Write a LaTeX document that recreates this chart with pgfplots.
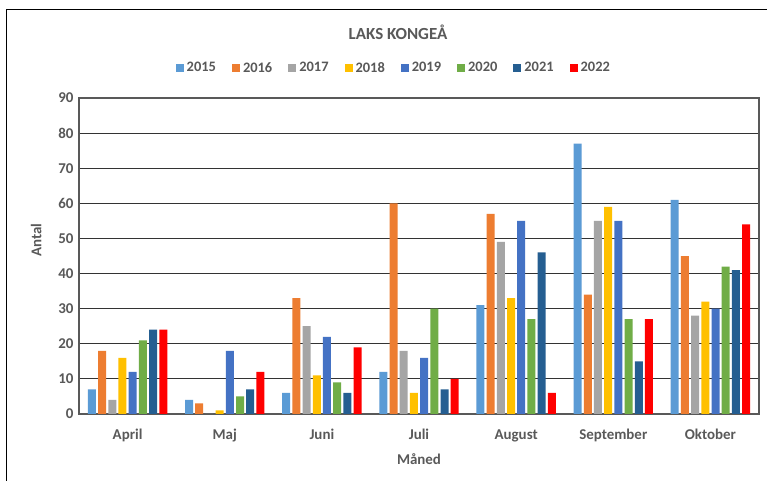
\documentclass[border=0pt]{standalone}
\usepackage{fontspec}
\setmainfont{Carlito}
\usepackage{pgfplots}
\pgfplotsset{compat=1.18}
\definecolor{c15}{HTML}{5B9BD5}
\definecolor{c16}{HTML}{ED7D31}
\definecolor{c17}{HTML}{A5A5A5}
\definecolor{c18}{HTML}{FFC000}
\definecolor{c19}{HTML}{4472C4}
\definecolor{c20}{HTML}{70AD47}
\definecolor{c21}{HTML}{255E91}
\definecolor{c22}{HTML}{FF0000}
\definecolor{txt}{HTML}{595959}
\begin{document}
\begin{tikzpicture}
\useasboundingbox (0bp,0bp) rectangle (767bp,481bp);
\fill[white] (0bp,0bp) rectangle (767bp,481bp);
\draw[black, line width=1.5bp] (6.5bp,0bp) -- (6.5bp,471.5bp) -- (767bp,471.5bp);
\node[text=txt, font=\bfseries\fontsize{17}{19}\selectfont] at (398bp,449bp) {LAKS KONGEÅ};
\begin{axis}[at={(79bp,67bp)}, anchor=south west, width=680bp, height=316bp, scale only axis,
  ymin=0, ymax=90, ytick={0,10,...,90},
  xmin=-0.5, xmax=6.5, xtick={0,...,6},
  xticklabels={April,Maj,Juni,Juli,August,September,Oktober},
  ybar=2.2bp, bar width=8bp,
  ymajorgrids, grid style={line width=1.2bp, color=black!80},
  axis line style={line width=1.2bp, color=black!65},
  major tick length=0pt, tick style={draw=none},
  ticklabel style={font=\bfseries\fontsize{15}{17}\selectfont, text=txt},
  yticklabel style={xshift=-2bp},
  xticklabel style={anchor=base, yshift=-26bp},
  /pgf/number format/assume math mode=true,
  xlabel={Måned}, ylabel={Antal},
  label style={font=\bfseries\fontsize{15}{17}\selectfont, text=txt},
  xlabel style={at={(axis description cs:0.5,-0.142)}, anchor=center},
  ylabel style={at={(axis description cs:-0.063,0.55)}, anchor=center, rotate=0},
  legend columns=8,
  legend style={at={(axis description cs:0.463,1.095)}, anchor=center, draw=none, fill=none,
    font=\bfseries\fontsize{14.5}{16}\selectfont, text=txt,
    /tikz/every even column/.append style={column sep=14bp}},
  legend image code/.code={\fill[#1] (0bp,-4bp) rectangle (8bp,4bp);},
  legend style={/tikz/every odd column/.append style={column sep=1bp}},
]
\addplot[fill=c15, draw=none] coordinates {(0,7) (1,4) (2,6) (3,12) (4,31) (5,77) (6,61)};
\addplot[fill=c16, draw=none] coordinates {(0,18) (1,3) (2,33) (3,60) (4,57) (5,34) (6,45)};
\addplot[fill=c17, draw=none] coordinates {(0,4) (1,0) (2,25) (3,18) (4,49) (5,55) (6,28)};
\addplot[fill=c18, draw=none] coordinates {(0,16) (1,1) (2,11) (3,6) (4,33) (5,59) (6,32)};
\addplot[fill=c19, draw=none] coordinates {(0,12) (1,18) (2,22) (3,16) (4,55) (5,55) (6,30)};
\addplot[fill=c20, draw=none] coordinates {(0,21) (1,5) (2,9) (3,30) (4,27) (5,27) (6,42)};
\addplot[fill=c21, draw=none] coordinates {(0,24) (1,7) (2,6) (3,7) (4,46) (5,15) (6,41)};
\addplot[fill=c22, draw=none] coordinates {(0,24) (1,12) (2,19) (3,10) (4,6) (5,27) (6,54)};
\legend{2015,2016,2017,2018,2019,2020,2021,2022}
\end{axis}
\end{tikzpicture}
\end{document}
